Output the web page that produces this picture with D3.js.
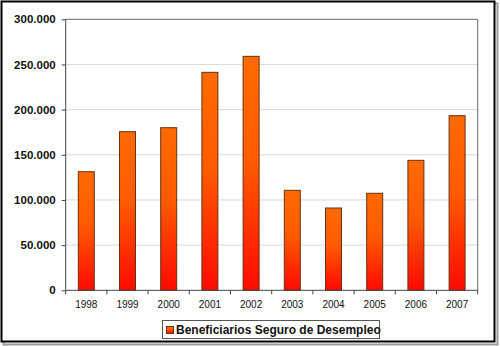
<!DOCTYPE html>
<html><head><meta charset="utf-8">
<script src="https://cdn.jsdelivr.net/npm/d3@7"></script>
<style>body{margin:0;background:#fff}svg{display:block;font-family:"Liberation Sans",Arial,sans-serif}</style>
</head><body><svg id="c" width="500" height="346"></svg>
<script>
const years = ["1998","1999","2000","2001","2002","2003","2004","2005","2006","2007"];
const beneficiarios = [131300,175600,180000,241300,259000,110700,91100,107400,143900,193300];
const yTicks = [0,50000,100000,150000,200000,250000,300000];
const seriesName = "Beneficiarios Seguro de Desempleo";

const svg = d3.select("#c");
const L=65.7, R=477.7, T=19.3, B=290.3;

// outer frame with shadow
svg.append("rect").attr("x",3.5).attr("y",3.5).attr("width",494).attr("height",341).attr("fill","none").attr("stroke","#9a9a9a").attr("stroke-width",2);
svg.append("rect").attr("x",1.5).attr("y",1.5).attr("width",493).attr("height",340).attr("fill","#fff").attr("stroke","#000").attr("stroke-width",2);

const defs = svg.append("defs");
const g = defs.append("linearGradient").attr("id","grad").attr("x1",0).attr("y1",0).attr("x2",0).attr("y2",1);
g.append("stop").attr("offset","0%").attr("stop-color","#ff6a00");
g.append("stop").attr("offset","45%").attr("stop-color","#ff5a00");
g.append("stop").attr("offset","100%").attr("stop-color","#ff0a00");

const x = d3.scaleBand().domain(years).range([L,R]).paddingInner(0.61).paddingOuter(0.3);
const xb = d3.scaleBand().domain(years).range([L,R]);
const y = d3.scaleLinear().domain([0,300000]).range([B,T]);

// gridlines
svg.append("g").selectAll("line").data(yTicks.filter(d=>d>0&&d<300000)).join("line")
  .attr("x1",L).attr("x2",R).attr("y1",d=>y(d)).attr("y2",d=>y(d)).attr("stroke","#d9d9d9").attr("stroke-width",1);
// plot frame top/right
svg.append("path").attr("d",`M${L},${T}H${R}V${B}`).attr("fill","none").attr("stroke","#666").attr("stroke-width",1);

// bars
svg.append("g").selectAll("rect").data(years).join("rect")
  .attr("x",(d,i)=>xb(d)+xb.bandwidth()/2-8)
  .attr("width",16)
  .attr("y",(d,i)=>y(beneficiarios[i]))
  .attr("height",(d,i)=>B-y(beneficiarios[i]))
  .attr("fill","url(#grad)").attr("stroke","#6b3010").attr("stroke-width",1);

// y axis
const fmt = d => d===0 ? "0" : d3.format(",.3f")(d/1000).replace(",",".");
const ya = svg.append("g").attr("transform",`translate(${L},0)`)
  .call(d3.axisLeft(y).tickValues(yTicks).tickSize(4).tickPadding(6).tickFormat(fmt));
ya.select(".domain").attr("stroke","#444").attr("d",`M0,${T}V${B}`);
ya.selectAll(".tick line").attr("stroke","#444");
ya.selectAll("text").attr("font-family","Liberation Sans, Arial").attr("font-size","11.5px").attr("font-weight","bold").attr("fill","#111");

// x axis
const xa = svg.append("g").attr("transform",`translate(0,${B})`)
  .call(d3.axisBottom(xb).tickSize(0).tickPadding(11));
xa.select(".domain").attr("stroke","#444").attr("d",`M${L},0H${R}`);
xa.selectAll("text").attr("font-family","Liberation Sans, Arial").attr("font-size","10px").attr("fill","#111");
svg.append("g").selectAll("line").data(years.concat(["end"])).join("line")
  .attr("x1",(d,i)=>L+i*xb.bandwidth()).attr("x2",(d,i)=>L+i*xb.bandwidth())
  .attr("y1",B).attr("y2",B+4).attr("stroke","#444");

// legend
const lg = svg.append("g");
lg.append("rect").attr("x",162.5).attr("y",320.5).attr("width",217).attr("height",18).attr("fill","#fff").attr("stroke","#555");
lg.append("rect").attr("x",166.5).attr("y",326.5).attr("width",7).attr("height",7).attr("fill","url(#grad)").attr("stroke","#6b3010");
lg.append("text").attr("x",176).attr("y",334).attr("font-size","12px").attr("font-weight","bold").attr("fill","#111").text(seriesName);
</script></body></html>
